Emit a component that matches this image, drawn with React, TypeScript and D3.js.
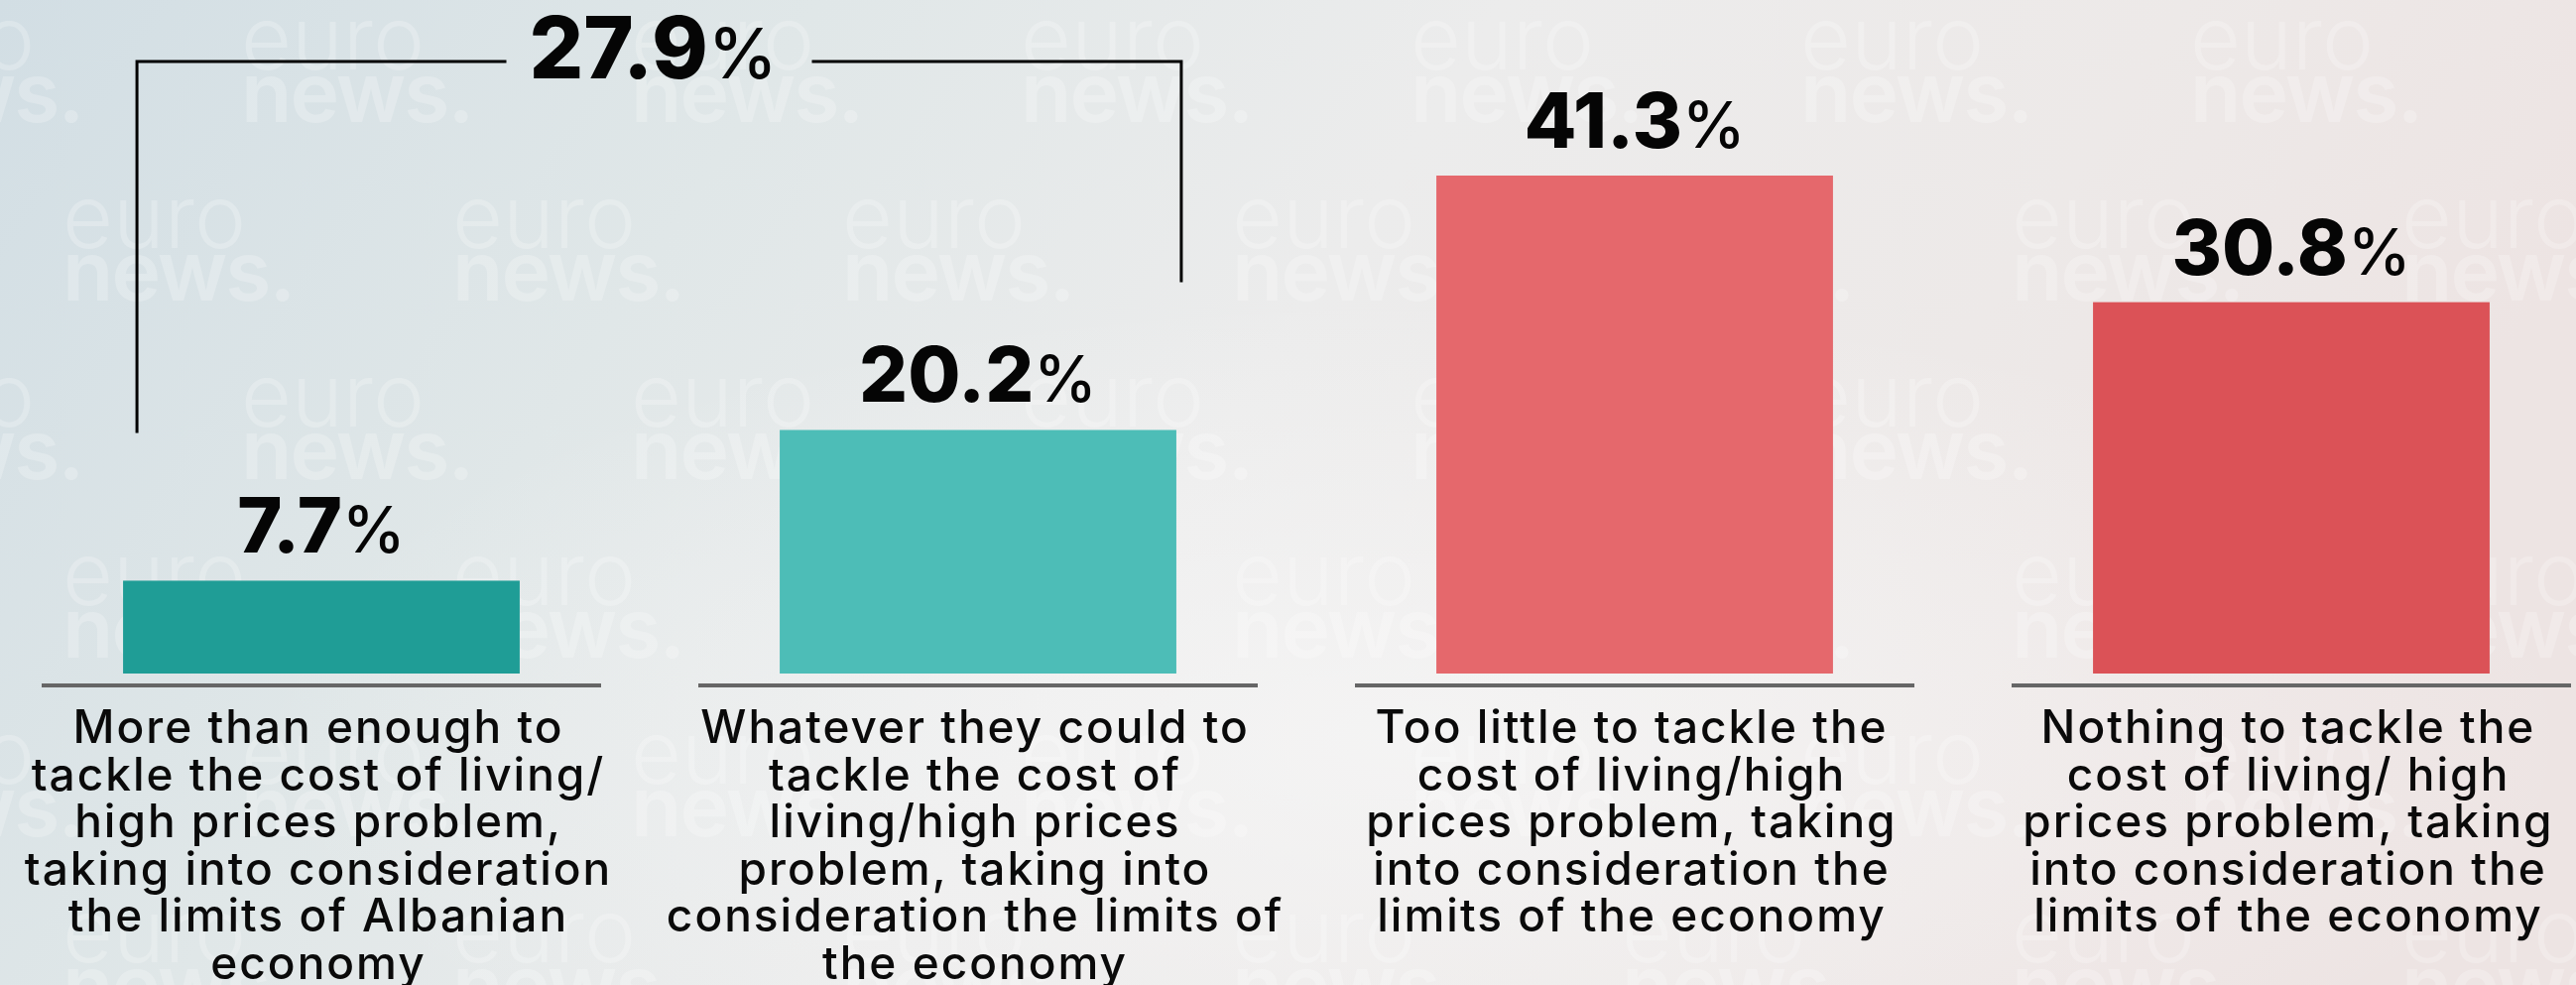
import React from "react";
import * as d3 from "d3";

const W = 2597;
const H = 993;

const categories = [
  "More than enough to tackle the cost of living/ high prices problem, taking into consideration the limits of Albanian economy",
  "Whatever they could to tackle the cost of living/high prices problem, taking into consideration the limits of the economy",
  "Too little to tackle the cost of living/high prices problem, taking into consideration the limits of the economy",
  "Nothing to tackle the cost of living/ high prices problem, taking into consideration the limits of the economy",
];
const categoryLines = [
  ["More than enough to", "tackle the cost of living/", "high prices problem,", "taking into consideration", "the limits of Albanian", "economy"],
  ["Whatever they could to", "tackle the cost of", "living/high prices", "problem, taking into", "consideration the limits of", "the economy"],
  ["Too little to tackle the", "cost of living/high", "prices problem, taking", "into consideration the", "limits of the economy"],
  ["Nothing to tackle the", "cost of living/ high", "prices problem, taking", "into consideration the", "limits of the economy"],
];
const values = [7.7, 20.2, 41.3, 30.8];
const colors = ["#1f9d96", "#4dbdb7", "#e5686c", "#db5257"];
const bracketGroup = [0, 1];

const FONT = "Inter, 'Open Sans', sans-serif";

export default function App() {
  const x = d3
    .scaleBand<string>()
    .domain(categories)
    .range([-7, 2641])
    .paddingInner(0.396)
    .paddingOuter(0.198);
  const y = d3.scaleLinear().domain([0, d3.max(values)!]).range([679, 177]);
  const fmt = d3.format(".1f");

  const bw = x.bandwidth();
  const lineHalf = 282;

  // watermark grid (background branding)
  const marks: { x: number; y: number }[] = [];
  for (let r = 0; r < 6; r++) {
    const off = r % 2 === 0 ? 243 : 63;
    for (let k = -1; k < 8; k++) {
      marks.push({ x: off + k * 393, y: 70 + r * 180 });
    }
  }

  const c0 = categories[bracketGroup[0]];
  const c1 = categories[bracketGroup[1]];
  const bxL = (x(c0) as number) + 14;
  const bxR = (x(c1) as number) + bw + 5;
  const bY = 62;
  const sum = d3.sum(bracketGroup.map((i) => values[i]));
  const bMid = (bxL + bxR) / 2;
  const labelHalf = 154;
  const endY = (i: number) => y(values[i]) - 28 - 55 - 66;

  return (
    <div style={{ position: "absolute", left: 0, top: 0, width: W, height: H, overflow: "hidden" }}>
      <svg width={W} height={H} style={{ display: "block" }}>
        <defs>
          <linearGradient id="bg" x1="0" y1="0" x2="1" y2="0.25">
            <stop offset="0" stopColor="#d2dee4" />
            <stop offset="0.3" stopColor="#e0e7e8" />
            <stop offset="0.55" stopColor="#ececec" />
            <stop offset="0.8" stopColor="#ede9e8" />
            <stop offset="1" stopColor="#ede4e3" />
          </linearGradient>
          <radialGradient id="glow" cx="0.55" cy="0.75" r="0.45">
            <stop offset="0" stopColor="#f6f6f6" stopOpacity="0.8" />
            <stop offset="1" stopColor="#f6f6f6" stopOpacity="0" />
          </radialGradient>
        </defs>
        <rect x={0} y={0} width={W} height={H} fill="url(#bg)" />
        <rect x={0} y={0} width={W} height={H} fill="url(#glow)" />

        <g fill="#ffffff" opacity={0.24} fontFamily={FONT} aria-hidden="true">
          {marks.map((m, i) => (
            <g key={i} transform={`translate(${m.x},${m.y})`}>
              <text x={0} y={0} fontSize={88} fontWeight={300}>euro</text>
              <text x={0} y={53} fontSize={84} fontWeight={600} letterSpacing={-2}>news.</text>
            </g>
          ))}
        </g>

        {categories.map((c, i) => {
          const x0 = x(c) as number;
          const cx = x0 + bw / 2;
          return (
            <g key={c}>
              <rect x={x0} y={y(values[i])} width={bw} height={y(0) - y(values[i])} fill={colors[i]} />
              <rect x={cx - lineHalf} y={689} width={lineHalf * 2} height={4} fill="#666666" />
              <text
                x={cx}
                y={y(values[i]) - 28}
                textAnchor="middle"
                fontFamily={FONT}
                fontWeight={800}
                fontSize={77}
                fill="#050505"
              >
                {fmt(values[i])}
                <tspan fontSize={64} fontWeight={500}>%</tspan>
              </text>
              <text textAnchor="middle" fontFamily={FONT} fontWeight={500} fontSize={46} letterSpacing={2} fill="#0a0a0a">
                {categoryLines[i].map((ln, j) => (
                  <tspan key={j} x={cx - 3} y={749 + j * 47.6}>
                    {ln}
                  </tspan>
                ))}
              </text>
            </g>
          );
        })}

        <g stroke="#000" strokeWidth={3} fill="none">
          <polyline points={`${bxL},${endY(bracketGroup[0])} ${bxL},${bY} ${bMid - labelHalf},${bY}`} />
          <polyline points={`${bMid + labelHalf},${bY} ${bxR},${bY} ${bxR},${endY(bracketGroup[1])}`} />
        </g>
        <text
          x={bMid - 6}
          y={79}
          textAnchor="middle"
          fontFamily={FONT}
          fontWeight={800}
          fontSize={86}
          fill="#050505"
        >
          {fmt(sum)}
          <tspan fontSize={70} fontWeight={500}>%</tspan>
        </text>
      </svg>
    </div>
  );
}
